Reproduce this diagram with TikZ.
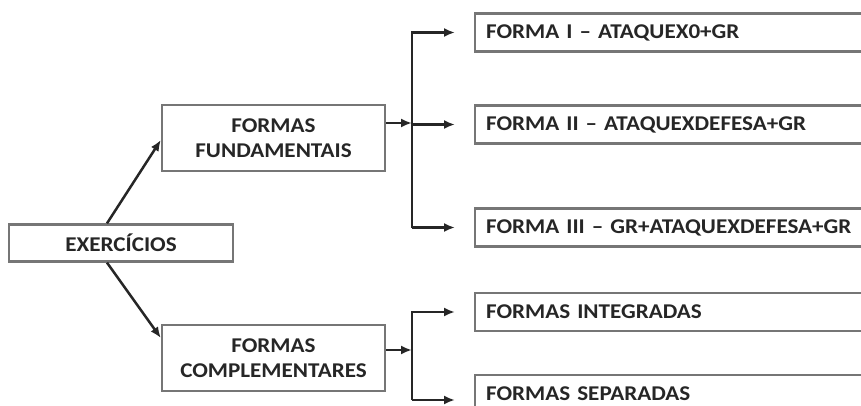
\documentclass[tikz,border=0pt]{standalone}
\usepackage{fontspec}
\setmainfont{Carlito}[FakeStretch=1.1]
\usetikzlibrary{arrows.meta,positioning}

\definecolor{boxgray}{HTML}{767676}
\definecolor{inkgray}{HTML}{262626}

\begin{document}
\begin{tikzpicture}[x=1pt,y=1pt,
    box/.style={draw=boxgray,line width=2.3pt,fill=white,text=inkgray,
      font=\fontsize{21}{25}\selectfont\bfseries,align=center,inner sep=0pt},
    formbox/.style={box,anchor=west,text width=420pt,align=left,inner xsep=11pt,
      minimum height=38pt},
    arr/.style={draw=inkgray,line width=2.5pt,-{Latex[length=11pt,width=9pt]}}]
    \clip (0,0) rectangle (861,405);
    \fill[white] (0,0) rectangle (861,405);

    \node[box,minimum width=224pt,minimum height=37pt] (exer) at (121,162) {EXERC\'ICIOS};
    \node[box,minimum width=223pt,minimum height=66pt] (fund) at (273.5,267) {FORMAS\\FUNDAMENTAIS};
    \node[box,minimum width=223pt,minimum height=66pt] (comp) at (273.5,47) {FORMAS\\COMPLEMENTARES};

    \node[formbox] (f1) at (474,372.5) {FORMA I -- ATAQUEX0+GR};
    \node[formbox] (f2) at (474,280.5) {FORMA II -- ATAQUEXDEFESA+GR};
    \node[formbox] (f3) at (474,177.5) {FORMA III -- GR+ATAQUEXDEFESA+GR};
    \node[formbox] (integ) at (474,93) {FORMAS INTEGRADAS};
    \node[formbox] (separ) at (474,11) {FORMAS SEPARADAS};

    \draw[arr] ([xshift=-14pt]exer.north) -- ([yshift=-2pt]fund.west);
    \draw[arr] ([xshift=-14pt]exer.south) -- ([yshift=20pt]comp.west);

    % upper bracket
    \coordinate (fj) at (412,282);
    \coordinate (tip) at (455,0);
    \draw[arr] (fund.east |- fj) -- (fj);
    \draw[arr] (fj |- f3.west) -- (fj |- f1.west) -- (tip |- f1.west);
    \draw[arr] (fj |- f2.west) -- (tip |- f2.west);
    \draw[arr] (fj |- f3.west) -- (tip |- f3.west);

    % lower bracket
    \coordinate (cj) at (412,55);
    \coordinate (sj) at (412,5);
    \draw[arr] (comp.east |- cj) -- (cj);
    \draw[arr] (sj) -- (sj |- integ.west) -- (tip |- integ.west);
    \draw[arr] (sj) -- (tip |- sj);
\end{tikzpicture}
\end{document}
